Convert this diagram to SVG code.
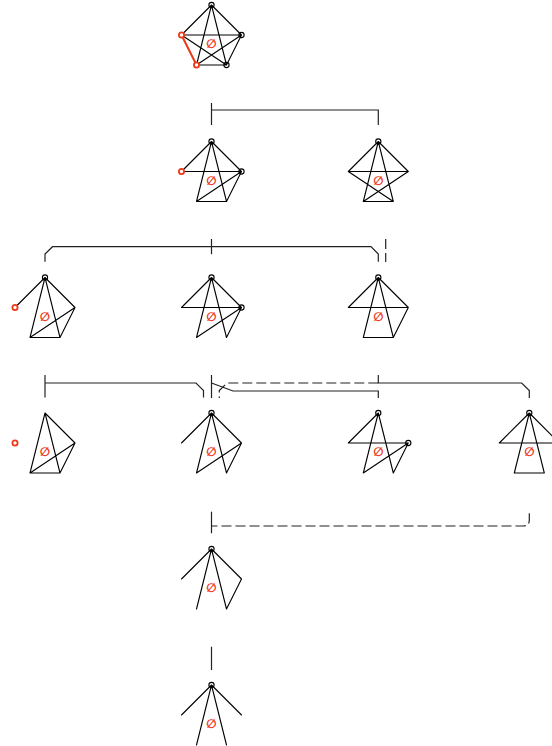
<svg xmlns="http://www.w3.org/2000/svg" width="552" height="746" viewBox="0 0 552 746">
<style>
.e{stroke:#000;stroke-width:1.1;fill:none;stroke-linecap:round}
.er{stroke:#ee3a1a;stroke-width:2;fill:none;stroke-linecap:round}
.v{fill:none;stroke:#000;stroke-width:1.1}
.vr{fill:#fff;stroke:#ee3a1a;stroke-width:1.8}
.lb{font-family:"DejaVu Sans",sans-serif;font-size:12px;font-weight:bold;fill:#ee3a1a;text-anchor:middle}
.c{stroke:#222;stroke-width:1.2;fill:none}
.d{stroke:#222;stroke-width:1.2;fill:none;stroke-dasharray:10 4}
</style>
<rect width="552" height="746" fill="#fff"/>
<g id="connectors">
<path class="c" d="M211.5 103V125M211.5 110H378.3V125"/>
<path class="c" d="M211.5 239V254.3M45 261.7V254L52.5 246.7H371L378.3 254V261.7"/>
<path class="d" d="M385.7 239V262"/>
<path class="c" d="M45 375V397.5M45 383H196L203.5 390.5V397.5"/>
<path class="c" d="M211.5 375V398"/>
<path class="c" d="M211.5 383L233 391H378.3V398"/>
<path class="c" d="M378.3 375V383H521.7L529.3 390.5V398"/>
<path class="d" d="M378.3 383H227L219.3 390.5V398"/>
<path class="c" d="M211.5 511.7V533.3"/>
<path class="d" d="M529.3 513.3V520Q529.3 526 523.3 526H211.5"/>
<path class="c" d="M211.5 646.7V670"/>
</g>
<g id="n1" transform="translate(211.5 5)">
<path class="e" d="M0 0L-30 30M0 0L30 30M0 0L-15 60M0 0L15 60M-30 30H30M-30 30L15 60M30 30L-15 60M30 30L15 60M-15 60H15"/>
<path class="er" d="M-30 30L-15 60"/>
<circle class="v" cx="0" cy="0" r="2.6"/><circle class="v" cx="30" cy="30" r="2.6"/><circle class="v" cx="15" cy="60" r="2.6"/>
<circle class="vr" cx="-30" cy="30" r="2.6"/><circle class="vr" cx="-15" cy="60" r="2.6"/>
<text class="lb" x="0" y="43">∅</text>
</g>
<g id="n2" transform="translate(211.5 141.5)">
<path class="e" d="M0 0L-30 30M-30 30H30M0 0L30 30M0 0L-15 60M0 0L15 60M30 30L-15 60M30 30L15 60M-15 60H15"/>
<circle class="v" cx="0" cy="0" r="2.6"/><circle class="v" cx="30" cy="30" r="2.6"/>
<circle class="vr" cx="-30" cy="30" r="2.6"/>
<text class="lb" x="0" y="43">∅</text>
</g>
<g id="n3" transform="translate(378.3 141.5)">
<path class="e" d="M0 0L-30 30M0 0L30 30M-30 30H30M0 0L-15 60M0 0L15 60M-30 30L15 60M30 30L-15 60M-15 60H15"/>
<circle class="v" cx="0" cy="0" r="2.6"/>
<text class="lb" x="0" y="43">∅</text>
</g>
<g id="n4" transform="translate(45 277.5)">
<path class="e" d="M0 0L-30 30M0 0L30 30M0 0L-15 60M0 0L15 60M30 30L-15 60M30 30L15 60M-15 60H15"/>
<circle class="v" cx="0" cy="0" r="2.6"/>
<circle class="vr" cx="-30" cy="30" r="2.6"/>
<text class="lb" x="0" y="43">∅</text>
</g>
<g id="n5" transform="translate(211.5 277.5)">
<path class="e" d="M0 0L-30 30M-30 30H30M0 0L30 30M0 0L-15 60M0 0L15 60M30 30L-15 60M30 30L15 60"/>
<circle class="v" cx="0" cy="0" r="2.6"/><circle class="v" cx="30" cy="30" r="2.6"/>
<text class="lb" x="0" y="43">∅</text>
</g>
<g id="n6" transform="translate(378.3 277.5)">
<path class="e" d="M0 0L-30 30M0 0L30 30M-30 30H30M0 0L-15 60M0 0L15 60M30 30L15 60M-15 60H15"/>
<circle class="v" cx="0" cy="0" r="2.6"/>
<text class="lb" x="0" y="43">∅</text>
</g>
<g id="n7" transform="translate(45 413)">
<path class="e" d="M0 0L30 30M0 0L-15 60M0 0L15 60M30 30L-15 60M30 30L15 60M-15 60H15"/>
<circle class="vr" cx="-30" cy="30" r="2.6"/>
<text class="lb" x="0" y="43">∅</text>
</g>
<g id="n8" transform="translate(211.5 413)">
<path class="e" d="M0 0L-30 30M0 0L30 30M0 0L-15 60M0 0L15 60M30 30L-15 60M30 30L15 60"/>
<circle class="v" cx="0" cy="0" r="2.6"/>
<text class="lb" x="0" y="43">∅</text>
</g>
<g id="n9" transform="translate(378.3 413)">
<path class="e" d="M0 0L-30 30M-30 30H30M0 0L-15 60M0 0L15 60M30 30L-15 60M30 30L15 60"/>
<circle class="v" cx="0" cy="0" r="2.6"/><circle class="v" cx="30" cy="30" r="2.6"/>
<text class="lb" x="0" y="43">∅</text>
</g>
<g id="n10" transform="translate(529.3 413)">
<path class="e" d="M0 0L-30 30M0 0L30 30M-30 30H30M0 0L-15 60M0 0L15 60M-15 60H15"/>
<circle class="v" cx="0" cy="0" r="2.6"/>
<text class="lb" x="0" y="43">∅</text>
</g>
<g id="n11" transform="translate(211.5 549)">
<path class="e" d="M0 0L-30 30M0 0L30 30M0 0L-15 60M0 0L15 60M30 30L15 60"/>
<circle class="v" cx="0" cy="0" r="2.6"/>
<text class="lb" x="0" y="43">∅</text>
</g>
<g id="n12" transform="translate(211.5 685)">
<path class="e" d="M0 0L-30 30M0 0L30 30M0 0L-15 60M0 0L15 60"/>
<circle class="v" cx="0" cy="0" r="2.6"/>
<text class="lb" x="0" y="43">∅</text>
</g>
</svg>
